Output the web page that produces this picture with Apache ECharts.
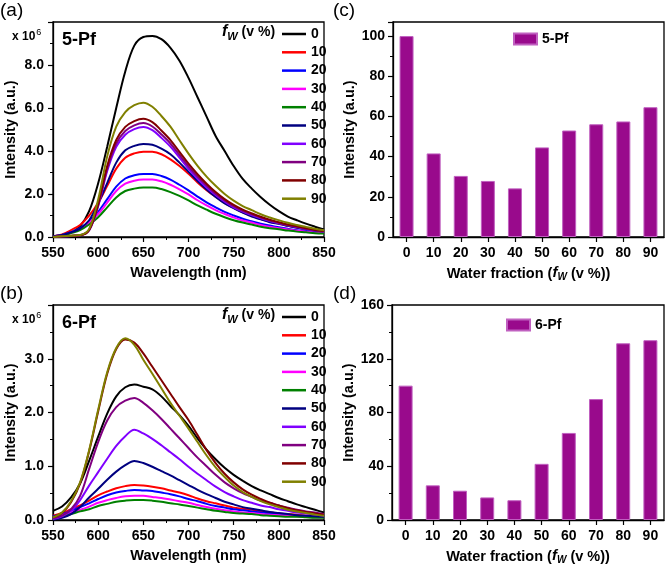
<!DOCTYPE html>
<html>
<head>
<meta charset="utf-8">
<script src="https://cdn.jsdelivr.net/npm/echarts@6/dist/echarts.min.js"></script>
<style>
  html, body { margin: 0; padding: 0; background: #fff; }
  #chart { width: 666px; height: 566px; }
</style>
</head>
<body>
<div id="chart"></div>
<script>
// wavelength grid (nm)
const wavelengths = [550, 560, 570, 580, 590, 600, 610, 620, 630, 640, 650, 660, 670, 680, 690, 700,
  710, 720, 730, 740, 750, 760, 770, 780, 790, 800, 810, 820, 830, 840, 850];
const fractions = ['0', '10', '20', '30', '40', '50', '60', '70', '80', '90'];
const lineColors = ['#000000', '#ff0000', '#0000ff', '#ff00ff', '#008000', '#000080', '#8000ff', '#800080', '#800000', '#808000'];

// (a) 5-Pf spectra, x 10^6
const a0 = [0.03, 0.08, 0.2, 0.5, 1.2, 2.5, 4.2, 6.0, 7.7, 8.9, 9.3, 9.35, 9.2, 8.8, 8.2, 7.4, 6.5, 5.6, 4.7, 4.0, 3.3, 2.7, 2.25, 1.85, 1.5, 1.2, 0.95, 0.78, 0.62, 0.48, 0.35];
const a10 = [0.04, 0.12, 0.32, 0.56, 0.99, 1.59, 2.38, 3.18, 3.69, 3.89, 3.97, 3.96, 3.85, 3.61, 3.3, 2.94, 2.54, 2.18, 1.87, 1.59, 1.35, 1.15, 0.99, 0.83, 0.71, 0.62, 0.52, 0.44, 0.38, 0.32, 0.26];
const a20 = [0.03, 0.09, 0.23, 0.41, 0.73, 1.17, 1.76, 2.34, 2.72, 2.87, 2.93, 2.93, 2.84, 2.67, 2.43, 2.17, 1.88, 1.61, 1.38, 1.17, 1.0, 0.85, 0.73, 0.62, 0.53, 0.45, 0.38, 0.32, 0.28, 0.23, 0.2];
const a30 = [0.03, 0.08, 0.21, 0.37, 0.67, 1.07, 1.6, 2.14, 2.48, 2.62, 2.67, 2.67, 2.59, 2.43, 2.22, 1.98, 1.71, 1.47, 1.25, 1.07, 0.91, 0.77, 0.67, 0.56, 0.48, 0.41, 0.35, 0.29, 0.25, 0.21, 0.19];
const a40 = [0.02, 0.07, 0.18, 0.32, 0.58, 0.92, 1.38, 1.84, 2.14, 2.25, 2.3, 2.3, 2.23, 2.09, 1.91, 1.7, 1.47, 1.27, 1.08, 0.92, 0.78, 0.67, 0.58, 0.48, 0.41, 0.36, 0.3, 0.25, 0.22, 0.18, 0.16];
const a50 = [0.04, 0.09, 0.22, 0.39, 0.78, 1.56, 2.51, 3.46, 4.03, 4.24, 4.33, 4.29, 4.11, 3.85, 3.46, 3.03, 2.6, 2.21, 1.86, 1.56, 1.34, 1.13, 0.95, 0.82, 0.69, 0.61, 0.52, 0.43, 0.37, 0.3, 0.26];
const a60 = [0.0, 0.03, 0.05, 0.08, 0.31, 1.43, 3.07, 4.2, 4.76, 5.02, 5.12, 4.97, 4.61, 4.2, 3.69, 3.17, 2.71, 2.3, 1.95, 1.64, 1.38, 1.18, 1.02, 0.87, 0.74, 0.64, 0.54, 0.46, 0.38, 0.31, 0.26];
const a70 = [0.0, 0.03, 0.05, 0.08, 0.32, 1.48, 3.18, 4.35, 4.93, 5.19, 5.3, 5.14, 4.77, 4.35, 3.82, 3.29, 2.81, 2.39, 2.01, 1.7, 1.43, 1.22, 1.06, 0.9, 0.77, 0.66, 0.56, 0.48, 0.4, 0.32, 0.27];
const a80 = [0.0, 0.03, 0.06, 0.08, 0.33, 1.54, 3.3, 4.51, 5.12, 5.39, 5.5, 5.34, 4.95, 4.51, 3.96, 3.41, 2.92, 2.48, 2.09, 1.76, 1.49, 1.27, 1.1, 0.94, 0.8, 0.69, 0.58, 0.5, 0.41, 0.33, 0.28];
const a90 = [0.0, 0.03, 0.06, 0.09, 0.38, 1.75, 3.75, 5.13, 5.81, 6.13, 6.25, 6.06, 5.63, 5.13, 4.5, 3.88, 3.31, 2.81, 2.38, 2.0, 1.69, 1.44, 1.25, 1.06, 0.91, 0.78, 0.66, 0.56, 0.47, 0.38, 0.31];

// (b) 6-Pf spectra, x 10^6
const b0 = [0.17, 0.25, 0.42, 0.68, 1.1, 1.55, 1.98, 2.3, 2.47, 2.52, 2.48, 2.43, 2.3, 2.12, 1.95, 1.75, 1.52, 1.31, 1.13, 0.97, 0.84, 0.73, 0.63, 0.55, 0.48, 0.41, 0.35, 0.29, 0.24, 0.19, 0.14];
const b10 = [0.08, 0.13, 0.2, 0.27, 0.36, 0.46, 0.53, 0.59, 0.63, 0.65, 0.64, 0.62, 0.59, 0.55, 0.51, 0.46, 0.4, 0.35, 0.31, 0.27, 0.23, 0.21, 0.19, 0.16, 0.14, 0.12, 0.11, 0.1, 0.08, 0.07, 0.07];
const b20 = [0.07, 0.11, 0.17, 0.24, 0.31, 0.39, 0.46, 0.51, 0.54, 0.56, 0.55, 0.54, 0.51, 0.48, 0.44, 0.39, 0.35, 0.3, 0.26, 0.23, 0.2, 0.18, 0.16, 0.14, 0.12, 0.11, 0.1, 0.08, 0.07, 0.06, 0.06];
const b30 = [0.05, 0.09, 0.14, 0.19, 0.25, 0.32, 0.37, 0.41, 0.44, 0.45, 0.45, 0.43, 0.41, 0.38, 0.35, 0.32, 0.28, 0.24, 0.21, 0.18, 0.16, 0.14, 0.13, 0.11, 0.1, 0.09, 0.08, 0.07, 0.06, 0.05, 0.05];
const b40 = [0.04, 0.07, 0.11, 0.16, 0.2, 0.26, 0.3, 0.34, 0.36, 0.37, 0.37, 0.36, 0.34, 0.31, 0.29, 0.26, 0.23, 0.2, 0.17, 0.15, 0.13, 0.12, 0.11, 0.09, 0.08, 0.07, 0.06, 0.06, 0.05, 0.04, 0.04];
const b50 = [0.01, 0.04, 0.11, 0.24, 0.42, 0.58, 0.75, 0.9, 1.02, 1.1, 1.06, 0.99, 0.91, 0.83, 0.74, 0.65, 0.56, 0.48, 0.41, 0.34, 0.29, 0.24, 0.21, 0.18, 0.15, 0.13, 0.11, 0.09, 0.08, 0.07, 0.06];
const b60 = [0.02, 0.07, 0.17, 0.37, 0.64, 0.89, 1.14, 1.38, 1.56, 1.68, 1.61, 1.51, 1.39, 1.26, 1.13, 0.99, 0.86, 0.74, 0.62, 0.52, 0.44, 0.37, 0.32, 0.27, 0.24, 0.2, 0.17, 0.14, 0.12, 0.1, 0.08];
const b70 = [0.03, 0.08, 0.2, 0.45, 0.95, 1.45, 1.85, 2.1, 2.22, 2.27, 2.18, 2.04, 1.88, 1.7, 1.52, 1.34, 1.16, 1.0, 0.84, 0.7, 0.59, 0.5, 0.43, 0.36, 0.32, 0.27, 0.23, 0.19, 0.16, 0.14, 0.11];
const b80 = [0.05, 0.13, 0.33, 0.68, 1.28, 2.02, 2.72, 3.18, 3.36, 3.3, 3.1, 2.85, 2.6, 2.35, 2.1, 1.86, 1.58, 1.3, 1.06, 0.86, 0.7, 0.57, 0.47, 0.39, 0.32, 0.27, 0.22, 0.18, 0.15, 0.12, 0.1];
const b90 = [0.05, 0.14, 0.35, 0.7, 1.3, 2.05, 2.75, 3.2, 3.38, 3.26, 2.98, 2.72, 2.45, 2.18, 1.94, 1.7, 1.45, 1.2, 0.98, 0.8, 0.64, 0.52, 0.43, 0.35, 0.29, 0.24, 0.19, 0.16, 0.13, 0.1, 0.08];

// (c), (d) relative intensity at peak
const bar5Pf = [100, 41.6, 30.4, 27.9, 24.2, 44.6, 53.0, 56.1, 57.5, 64.6];
const bar6Pf = [100, 25.8, 21.8, 16.8, 14.7, 41.8, 64.8, 90.0, 131.5, 133.8];

const spectra5Pf = [a0, a10, a20, a30, a40, a50, a60, a70, a80, a90];
const spectra6Pf = [b0, b10, b20, b30, b40, b50, b60, b70, b80, b90];

const FONT = 'Arial, "Liberation Sans", sans-serif';
const barColor = '#990a8c';

const chart = echarts.init(document.getElementById('chart'));

function lineSeries(list, axisIdx) {
  return list.map((vals, i) => ({
    name: fractions[i],
    type: 'line',
    xAxisIndex: axisIdx,
    yAxisIndex: axisIdx,
    data: wavelengths.map((w, j) => [w, vals[j]]),
    smooth: 0.35,
    symbol: 'none',
    lineStyle: { color: lineColors[i], width: 2 },
    itemStyle: { color: lineColors[i] },
    animation: false
  }));
}

const tickLabel = { color: '#000', fontFamily: FONT, fontSize: 14, fontWeight: 'bold' };
const nameStyle = { color: '#000', fontFamily: FONT, fontSize: 14.5, fontWeight: 'bold' };
const axisLine = { show: true, lineStyle: { color: '#000', width: 1.3 } };
const axisTick = { show: true, length: 5, lineStyle: { color: '#000', width: 1.2 } };
const minorTick = { show: true, splitNumber: 2, length: 3, lineStyle: { color: '#000', width: 1 } };

function specX(grid) {
  return {
    gridIndex: grid, type: 'value', min: 550, max: 850, interval: 50,
    name: 'Wavelength (nm)', nameLocation: 'middle', nameGap: 28, nameTextStyle: nameStyle,
    axisLine, axisTick, minorTick, splitLine: { show: false },
    axisLabel: Object.assign({ margin: 9 }, tickLabel)
  };
}
function specY(grid, max, interval) {
  return {
    gridIndex: grid, type: 'value', min: 0, max, interval,
    name: 'Intensity (a.u.)', nameLocation: 'middle', nameGap: 35, nameTextStyle: nameStyle,
    axisLine, axisTick, minorTick, splitLine: { show: false },
    axisLabel: Object.assign({ margin: 9, formatter: v => v >= max ? '' : v.toFixed(1) }, tickLabel)
  };
}
const barNameRich = {
  t: { fontFamily: FONT, fontSize: 14.5, fontWeight: 'bold', color: '#000' },
  f: { fontFamily: FONT, fontSize: 15, fontWeight: 'bold', fontStyle: 'italic', color: '#000', verticalAlign: 'top' },
  w: { fontFamily: FONT, fontSize: 10, fontWeight: 'bold', fontStyle: 'italic', color: '#000', padding: [7, 0, 0, 0], verticalAlign: 'top' }
};
function barX(grid) {
  return {
    gridIndex: grid, type: 'category', data: fractions,
    name: '{t|Water fraction (}{f|f}{w|W}{t| (v %))}', nameLocation: 'middle', nameGap: 28,
    nameTextStyle: Object.assign({ rich: barNameRich }, nameStyle),
    axisLine, axisTick: Object.assign({ alignWithLabel: true }, axisTick), splitLine: { show: false },
    axisLabel: Object.assign({ margin: 9, interval: 0 }, tickLabel)
  };
}
function barY(grid, max, interval, top) {
  return {
    gridIndex: grid, type: 'value', min: 0, max, interval,
    name: 'Intensity (a.u.)', nameLocation: 'middle', nameGap: 35, nameTextStyle: nameStyle,
    axisLine, axisTick, minorTick, splitLine: { show: false },
    axisLabel: Object.assign({ margin: 8, formatter: v => v > top ? '' : String(v) }, tickLabel)
  };
}

const gridBase = { show: true, borderColor: '#000', borderWidth: 1.3, backgroundColor: 'transparent' };

const legendLines = (left, top) => ({
  data: fractions, orient: 'vertical', left, top,
  icon: 'rect', itemWidth: 24, itemHeight: 2.5, itemGap: 4.3,
  textStyle: { fontFamily: FONT, fontSize: 14, fontWeight: 'bold', color: '#000', lineHeight: 14 },
  selectedMode: false
});
const legendBar = (name, left, top) => ({
  data: [name], left, top, icon: 'rect', itemWidth: 23, itemHeight: 11,
  textStyle: { fontFamily: FONT, fontSize: 14, fontWeight: 'bold', color: '#000' },
  selectedMode: false
});

function barSeries(name, vals, idx) {
  return {
    name, type: 'bar', xAxisIndex: idx, yAxisIndex: idx, data: vals, barWidth: 14,
    itemStyle: { color: barColor, borderColor: '#c060c0', borderWidth: 1 },
    animation: false
  };
}

const fwRich = {
  f: { fontFamily: FONT, fontSize: 16, fontWeight: 'bold', fontStyle: 'italic', color: '#000', verticalAlign: 'top' },
  w: { fontFamily: FONT, fontSize: 11, fontWeight: 'bold', fontStyle: 'italic', color: '#000', padding: [7, 0, 0, 0], verticalAlign: 'top' },
  t: { fontFamily: FONT, fontSize: 14, fontWeight: 'bold', color: '#000', verticalAlign: 'top', padding: [1, 0, 0, 0] }
};
const expRich = {
  x: { fontFamily: FONT, fontSize: 12, fontWeight: 'bold', color: '#000', verticalAlign: 'bottom' },
  s: { fontFamily: FONT, fontSize: 9, color: '#000', verticalAlign: 'bottom', padding: [0, 0, 6, 1] }
};
function txt(x, y, text, size, weight) {
  return { type: 'text', left: x, top: y, style: { text, fontFamily: FONT, fontSize: size, fontWeight: weight || 'normal', fill: '#000' } };
}

const option = {
  backgroundColor: '#fff',
  animation: false,
  grid: [
    Object.assign({ left: 53, top: 22, width: 271, height: 215 }, gridBase),
    Object.assign({ left: 53, top: 305, width: 271, height: 215 }, gridBase),
    Object.assign({ left: 393, top: 22, width: 271, height: 215 }, gridBase),
    Object.assign({ left: 392, top: 305, width: 272, height: 217 }, gridBase)
  ],
  xAxis: [specX(0), specX(1), barX(2), barX(3)],
  yAxis: [specY(0, 10, 2), specY(1, 4, 1), barY(2, 107, 20, 100), barY(3, 160, 40, 160)],
  legend: [
    legendLines(277, 22),
    legendLines(277, 305),
    legendBar('5-Pf', 508, 27),
    legendBar('6-Pf', 501, 313)
  ],
  graphic: [
    txt(0, 1, '(a)', 19),
    txt(0, 284, '(b)', 19),
    txt(333, 1, '(c)', 19),
    txt(333, 284, '(d)', 19),
    txt(62, 31, '5-Pf', 18, 'bold'),
    txt(62, 314, '6-Pf', 18, 'bold'),
    { type: 'text', left: 12, top: 28, style: { text: '{x|x 10}{s|6}', rich: expRich } },
    { type: 'text', left: 12, top: 311, style: { text: '{x|x 10}{s|6}', rich: expRich } },
    { type: 'text', left: 222, top: 24, style: { text: '{f|f}{w|W}{t| (v %)}', rich: fwRich } },
    { type: 'text', left: 222, top: 307, style: { text: '{f|f}{w|W}{t| (v %)}', rich: fwRich } }
  ],
  series: [].concat(
    lineSeries(spectra5Pf, 0),
    lineSeries(spectra6Pf, 1),
    [barSeries('5-Pf', bar5Pf, 2), barSeries('6-Pf', bar6Pf, 3)]
  )
};

chart.setOption(option);
</script>
</body>
</html>
